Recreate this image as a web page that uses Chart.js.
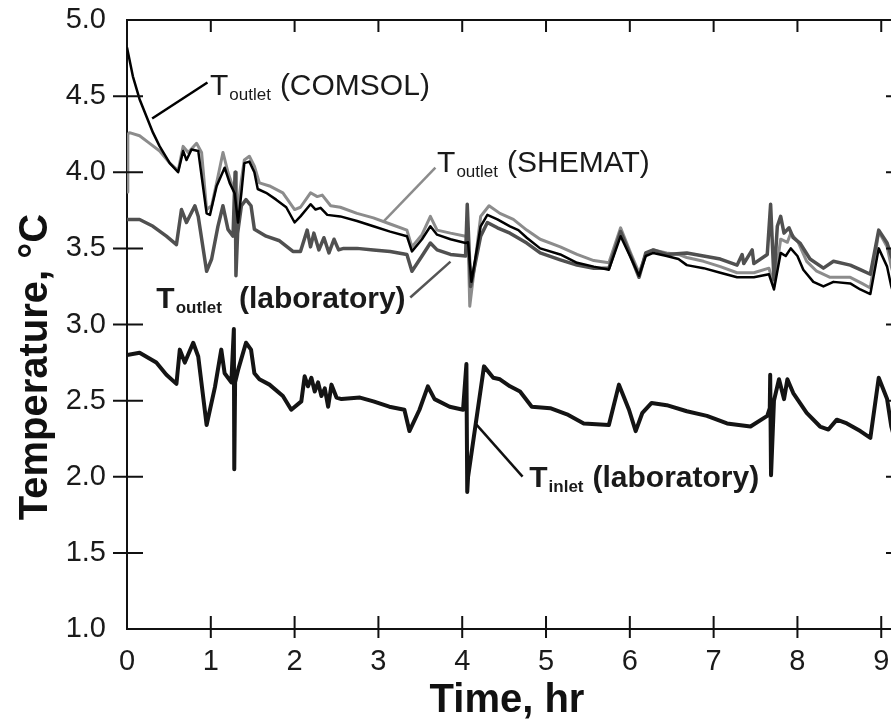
<!DOCTYPE html>
<html>
<head>
<meta charset="utf-8">
<script src="https://cdn.jsdelivr.net/npm/chart.js@4.4.1/dist/chart.umd.min.js"></script>
<style>
html, body { margin: 0; padding: 0; background: #fff; overflow: hidden; }
#wrap { width: 910px; height: 722px; }
</style>
</head>
<body>
<div id="wrap"><canvas id="tempChart"></canvas></div>
<script>
// Time axis (hr) and temperature (°C)
const comsolTime = [0.00, 0.07, 0.15, 0.23, 0.31, 0.39, 0.51, 0.61, 0.67, 0.71, 0.77, 0.85, 0.95, 0.99, 1.07, 1.165, 1.225, 1.285, 1.325, 1.365, 1.40, 1.46, 1.52, 1.56, 1.66, 1.78, 1.90, 2.00, 2.07, 2.19, 2.25, 2.31, 2.39, 2.545, 2.745, 2.94, 3.14, 3.34, 3.40, 3.52, 3.62, 3.70, 3.86, 4.04, 4.07, 4.11, 4.22, 4.30, 4.42, 4.57, 4.67, 4.77, 4.93, 5.17, 5.37, 5.57, 5.75, 5.89, 6.01, 6.11, 6.19, 6.28, 6.44, 6.58, 6.68, 6.88, 7.08, 7.28, 7.48, 7.66, 7.72, 7.80, 7.86, 7.92, 8.00, 8.07, 8.19, 8.31, 8.43, 8.63, 8.75, 8.87, 8.97, 9.07, 9.12, 9.16];
const comsolTemp = [4.82, 4.63, 4.48, 4.37, 4.26, 4.17, 4.06, 4.00, 4.14, 4.08, 4.15, 4.14, 3.73, 3.72, 3.91, 4.03, 3.93, 3.86, 3.67, 3.865, 4.06, 4.07, 4.00, 3.89, 3.865, 3.82, 3.77, 3.67, 3.71, 3.79, 3.755, 3.766, 3.72, 3.71, 3.68, 3.645, 3.61, 3.58, 3.48, 3.56, 3.645, 3.59, 3.56, 3.535, 3.54, 3.28, 3.645, 3.72, 3.69, 3.645, 3.62, 3.57, 3.50, 3.46, 3.405, 3.38, 3.36, 3.58, 3.44, 3.32, 3.45, 3.47, 3.45, 3.43, 3.39, 3.37, 3.34, 3.31, 3.31, 3.33, 3.23, 3.47, 3.45, 3.50, 3.45, 3.36, 3.28, 3.25, 3.28, 3.27, 3.23, 3.20, 3.50, 3.38, 3.25, 3.18];

const shematTime = [0.00, 0.01, 0.03, 0.15, 0.27, 0.39, 0.51, 0.61, 0.67, 0.73, 0.83, 0.89, 0.95, 1.01, 1.085, 1.145, 1.205, 1.285, 1.305, 1.365, 1.40, 1.46, 1.52, 1.58, 1.70, 1.86, 2.00, 2.07, 2.19, 2.27, 2.33, 2.43, 2.545, 2.745, 2.94, 3.14, 3.34, 3.40, 3.52, 3.62, 3.70, 3.86, 4.04, 4.07, 4.09, 4.22, 4.32, 4.45, 4.61, 4.77, 4.93, 5.17, 5.37, 5.57, 5.75, 5.89, 6.01, 6.11, 6.19, 6.28, 6.44, 6.58, 6.68, 6.88, 7.08, 7.28, 7.48, 7.66, 7.72, 7.80, 7.88, 7.92, 8.01, 8.11, 8.23, 8.39, 8.63, 8.77, 8.87, 8.97, 9.07, 9.12, 9.16];
const shematTemp = [3.87, 4.25, 4.26, 4.24, 4.19, 4.14, 4.06, 4.01, 4.17, 4.13, 4.19, 4.13, 3.755, 3.78, 3.97, 4.13, 4.00, 3.865, 3.69, 3.95, 4.08, 4.105, 4.04, 3.93, 3.91, 3.865, 3.755, 3.77, 3.865, 3.84, 3.85, 3.78, 3.77, 3.73, 3.70, 3.66, 3.62, 3.51, 3.59, 3.71, 3.62, 3.60, 3.58, 3.56, 3.12, 3.71, 3.78, 3.73, 3.69, 3.62, 3.56, 3.51, 3.46, 3.42, 3.405, 3.635, 3.47, 3.34, 3.46, 3.49, 3.47, 3.46, 3.44, 3.415, 3.38, 3.34, 3.34, 3.37, 3.25, 3.56, 3.54, 3.60, 3.54, 3.415, 3.35, 3.31, 3.31, 3.27, 3.24, 3.61, 3.51, 3.38, 3.30];

const outletLabTime = [0.00, 0.15, 0.31, 0.47, 0.59, 0.65, 0.71, 0.81, 0.85, 0.95, 1.01, 1.085, 1.145, 1.205, 1.265, 1.29, 1.30, 1.32, 1.365, 1.42, 1.48, 1.52, 1.66, 1.82, 1.98, 2.07, 2.15, 2.19, 2.23, 2.29, 2.35, 2.41, 2.47, 2.525, 2.585, 2.745, 2.94, 3.14, 3.34, 3.40, 3.52, 3.62, 3.70, 3.86, 4.04, 4.06, 4.10, 4.22, 4.30, 4.42, 4.57, 4.77, 4.93, 5.17, 5.37, 5.57, 5.75, 5.89, 6.01, 6.11, 6.19, 6.28, 6.44, 6.68, 6.88, 7.08, 7.28, 7.34, 7.36, 7.46, 7.48, 7.64, 7.68, 7.72, 7.76, 7.80, 7.84, 7.90, 7.95, 8.03, 8.15, 8.31, 8.43, 8.63, 8.75, 8.87, 8.97, 9.07, 9.12, 9.16];
const outletLabTemp = [3.69, 3.69, 3.645, 3.58, 3.525, 3.755, 3.67, 3.78, 3.71, 3.35, 3.43, 3.645, 3.78, 3.625, 3.58, 4.00, 3.32, 3.60, 3.78, 3.82, 3.78, 3.625, 3.58, 3.55, 3.48, 3.48, 3.62, 3.51, 3.60, 3.49, 3.57, 3.47, 3.56, 3.49, 3.50, 3.50, 3.49, 3.48, 3.46, 3.35, 3.45, 3.535, 3.49, 3.46, 3.45, 3.79, 3.25, 3.58, 3.67, 3.635, 3.60, 3.535, 3.47, 3.425, 3.39, 3.37, 3.37, 3.61, 3.45, 3.31, 3.47, 3.49, 3.46, 3.47, 3.45, 3.43, 3.39, 3.46, 3.40, 3.49, 3.40, 3.46, 3.79, 3.295, 3.645, 3.71, 3.60, 3.635, 3.57, 3.535, 3.43, 3.37, 3.415, 3.39, 3.36, 3.33, 3.62, 3.535, 3.45, 3.40];

const inletLabTime = [0.00, 0.15, 0.35, 0.47, 0.59, 0.63, 0.69, 0.79, 0.85, 0.95, 1.05, 1.125, 1.165, 1.245, 1.275, 1.28, 1.29, 1.325, 1.42, 1.48, 1.52, 1.58, 1.70, 1.86, 1.96, 2.08, 2.12, 2.16, 2.20, 2.24, 2.28, 2.32, 2.36, 2.40, 2.44, 2.50, 2.56, 2.78, 2.94, 3.13, 3.31, 3.37, 3.49, 3.59, 3.67, 3.85, 4.01, 4.05, 4.06, 4.07, 4.26, 4.37, 4.45, 4.57, 4.69, 4.83, 5.05, 5.25, 5.45, 5.75, 5.87, 5.99, 6.07, 6.15, 6.26, 6.44, 6.68, 6.92, 7.16, 7.44, 7.64, 7.67, 7.675, 7.685, 7.72, 7.78, 7.84, 7.88, 7.95, 8.11, 8.27, 8.37, 8.47, 8.59, 8.75, 8.87, 8.97, 9.07, 9.12, 9.16];
const inletLabTemp = [2.80, 2.815, 2.75, 2.67, 2.61, 2.835, 2.75, 2.88, 2.79, 2.34, 2.59, 2.835, 2.68, 2.62, 2.97, 2.05, 2.62, 2.70, 2.88, 2.835, 2.68, 2.64, 2.605, 2.53, 2.44, 2.495, 2.66, 2.594, 2.65, 2.56, 2.62, 2.53, 2.58, 2.46, 2.605, 2.52, 2.51, 2.52, 2.495, 2.46, 2.44, 2.30, 2.44, 2.594, 2.51, 2.46, 2.44, 2.74, 1.90, 2.00, 2.725, 2.65, 2.64, 2.594, 2.56, 2.46, 2.45, 2.41, 2.35, 2.34, 2.605, 2.44, 2.30, 2.42, 2.485, 2.47, 2.43, 2.40, 2.35, 2.33, 2.40, 2.45, 2.67, 2.01, 2.50, 2.64, 2.51, 2.64, 2.55, 2.42, 2.33, 2.31, 2.375, 2.35, 2.30, 2.255, 2.65, 2.51, 2.33, 2.25];

const xTicks = [0, 1, 2, 3, 4, 5, 6, 7, 8, 9];
const yTicks = [1.0, 1.5, 2.0, 2.5, 3.0, 3.5, 4.0, 4.5, 5.0];

const FONT = "'Liberation Sans', Arial, Helvetica, sans-serif";
const pts = (xs, ys) => xs.map((x, i) => ({ x: x, y: ys[i] }));

// curve labels, anchored in data units
const notes = [
  { sub: 'outlet', rest: '(COMSOL)', bold: false, at: [0.99, 4.51], gap: 9, line: [[0.30, 4.353], [0.96, 4.589]], lineColor: '#000' },
  { sub: 'outlet', rest: '(SHEMAT)', bold: false, at: [3.70, 4.0], gap: 9, line: [[3.06, 3.676], [3.68, 4.031]], lineColor: '#8c8c8c' },
  { sub: 'outlet', rest: '(laboratory)', bold: true, at: [0.35, 3.11], gap: 17, line: [[3.38, 3.177], [3.86, 3.413]], lineColor: '#555' },
  { sub: 'inlet', rest: '(laboratory)', bold: true, at: [4.80, 1.935], gap: 9, line: [[4.17, 2.342], [4.72, 2.001]], lineColor: '#111' }
];

const decorations = {
  id: 'decorations',
  afterDraw(chart) {
    const { ctx, chartArea: a, scales: { x, y } } = chart;
    ctx.save();
    // frame + ticks
    ctx.strokeStyle = '#111';
    ctx.lineWidth = 2;
    ctx.beginPath();
    ctx.moveTo(a.left, a.top); ctx.lineTo(a.right, a.top); ctx.lineTo(a.right, a.bottom);
    xTicks.forEach(v => {
      if (v === 0) return;
      const px = x.getPixelForValue(v);
      ctx.moveTo(px, a.bottom - 13); ctx.lineTo(px, a.bottom + 9);
      ctx.moveTo(px, a.top); ctx.lineTo(px, a.top + 12);
    });
    yTicks.forEach(v => {
      if (v === 1.0 || v === 5.0) return;
      const py = y.getPixelForValue(v);
      ctx.moveTo(a.left - 14, py); ctx.lineTo(a.left + 16, py);
      ctx.moveTo(a.right - 12, py); ctx.lineTo(a.right, py);
    });
    ctx.stroke();

    // axis titles
    ctx.fillStyle = '#111';
    ctx.font = 'bold 40px ' + FONT;
    ctx.textAlign = 'center';
    ctx.textBaseline = 'alphabetic';
    ctx.fillText('Time, hr', 507, 712);
    ctx.save();
    ctx.translate(47, 367);
    ctx.rotate(-Math.PI / 2);
    ctx.fillText('Temperature, °C', 0, 0);
    ctx.restore();

    // curve labels
    ctx.textAlign = 'left';
    notes.forEach(n => {
      ctx.strokeStyle = n.lineColor;
      ctx.lineWidth = 2.5;
      ctx.beginPath();
      ctx.moveTo(x.getPixelForValue(n.line[0][0]), y.getPixelForValue(n.line[0][1]));
      ctx.lineTo(x.getPixelForValue(n.line[1][0]), y.getPixelForValue(n.line[1][1]));
      ctx.stroke();

      const w = n.bold ? 'bold ' : '';
      let px = x.getPixelForValue(n.at[0]);
      const base = y.getPixelForValue(n.at[1]);
      ctx.fillStyle = '#1a1a1a';
      ctx.font = w + '30px ' + FONT;
      ctx.fillText('T', px, base);
      px += ctx.measureText('T').width + 1;
      ctx.font = w + '17px ' + FONT;
      ctx.fillText(n.sub, px, base + 5);
      px += ctx.measureText(n.sub).width + n.gap;
      ctx.font = w + '30px ' + FONT;
      ctx.fillText(n.rest, px, base);
    });
    ctx.restore();
  }
};

const data = {
  datasets: [
    { label: 'T outlet (COMSOL)', data: pts(comsolTime, comsolTemp), borderColor: '#000', borderWidth: 2.5 },
    { label: 'T outlet (laboratory)', data: pts(outletLabTime, outletLabTemp), borderColor: '#505050', borderWidth: 3.5 },
    { label: 'T outlet (SHEMAT)', data: pts(shematTime, shematTemp), borderColor: '#8c8c8c', borderWidth: 3 },
    { label: 'T inlet (laboratory)', data: pts(inletLabTime, inletLabTemp), borderColor: '#141414', borderWidth: 4 }
  ]
};

const options = {
  responsive: true,
  maintainAspectRatio: false,
  animation: false,
  layout: { padding: { top: 20, right: 12, left: 0, bottom: 0 } },
  elements: { point: { radius: 0 }, line: { tension: 0, borderJoinStyle: 'round', fill: false } },
  plugins: { legend: { display: false }, tooltip: { enabled: false } },
  scales: {
    x: {
      type: 'linear', min: 0, max: 9.2,
      afterFit: s => { s.height = 93; s.paddingLeft = 0; s.paddingRight = 0; },
      afterBuildTicks: s => { s.ticks = xTicks.map(v => ({ value: v })); },
      ticks: { font: { size: 29, family: FONT }, color: '#1a1a1a', padding: 16, callback: v => String(v) },
      grid: { display: false, drawTicks: false },
      border: { display: true, color: '#111', width: 2 }
    },
    y: {
      type: 'linear', min: 1, max: 5,
      afterFit: s => { s.width = 127; s.paddingTop = 0; s.paddingBottom = 0; },
      afterBuildTicks: s => { s.ticks = yTicks.map(v => ({ value: v })); },
      ticks: { font: { size: 29, family: FONT }, color: '#1a1a1a', padding: 21, callback: v => v.toFixed(1) },
      grid: { display: false, drawTicks: false },
      border: { display: true, color: '#111', width: 2 }
    }
  }
};

const ctx = document.getElementById('tempChart').getContext('2d');
const tempChart = new Chart(ctx, {
  type: 'line',
  data: data,
  options: options,
  plugins: [decorations]
});
</script>
</body>
</html>
